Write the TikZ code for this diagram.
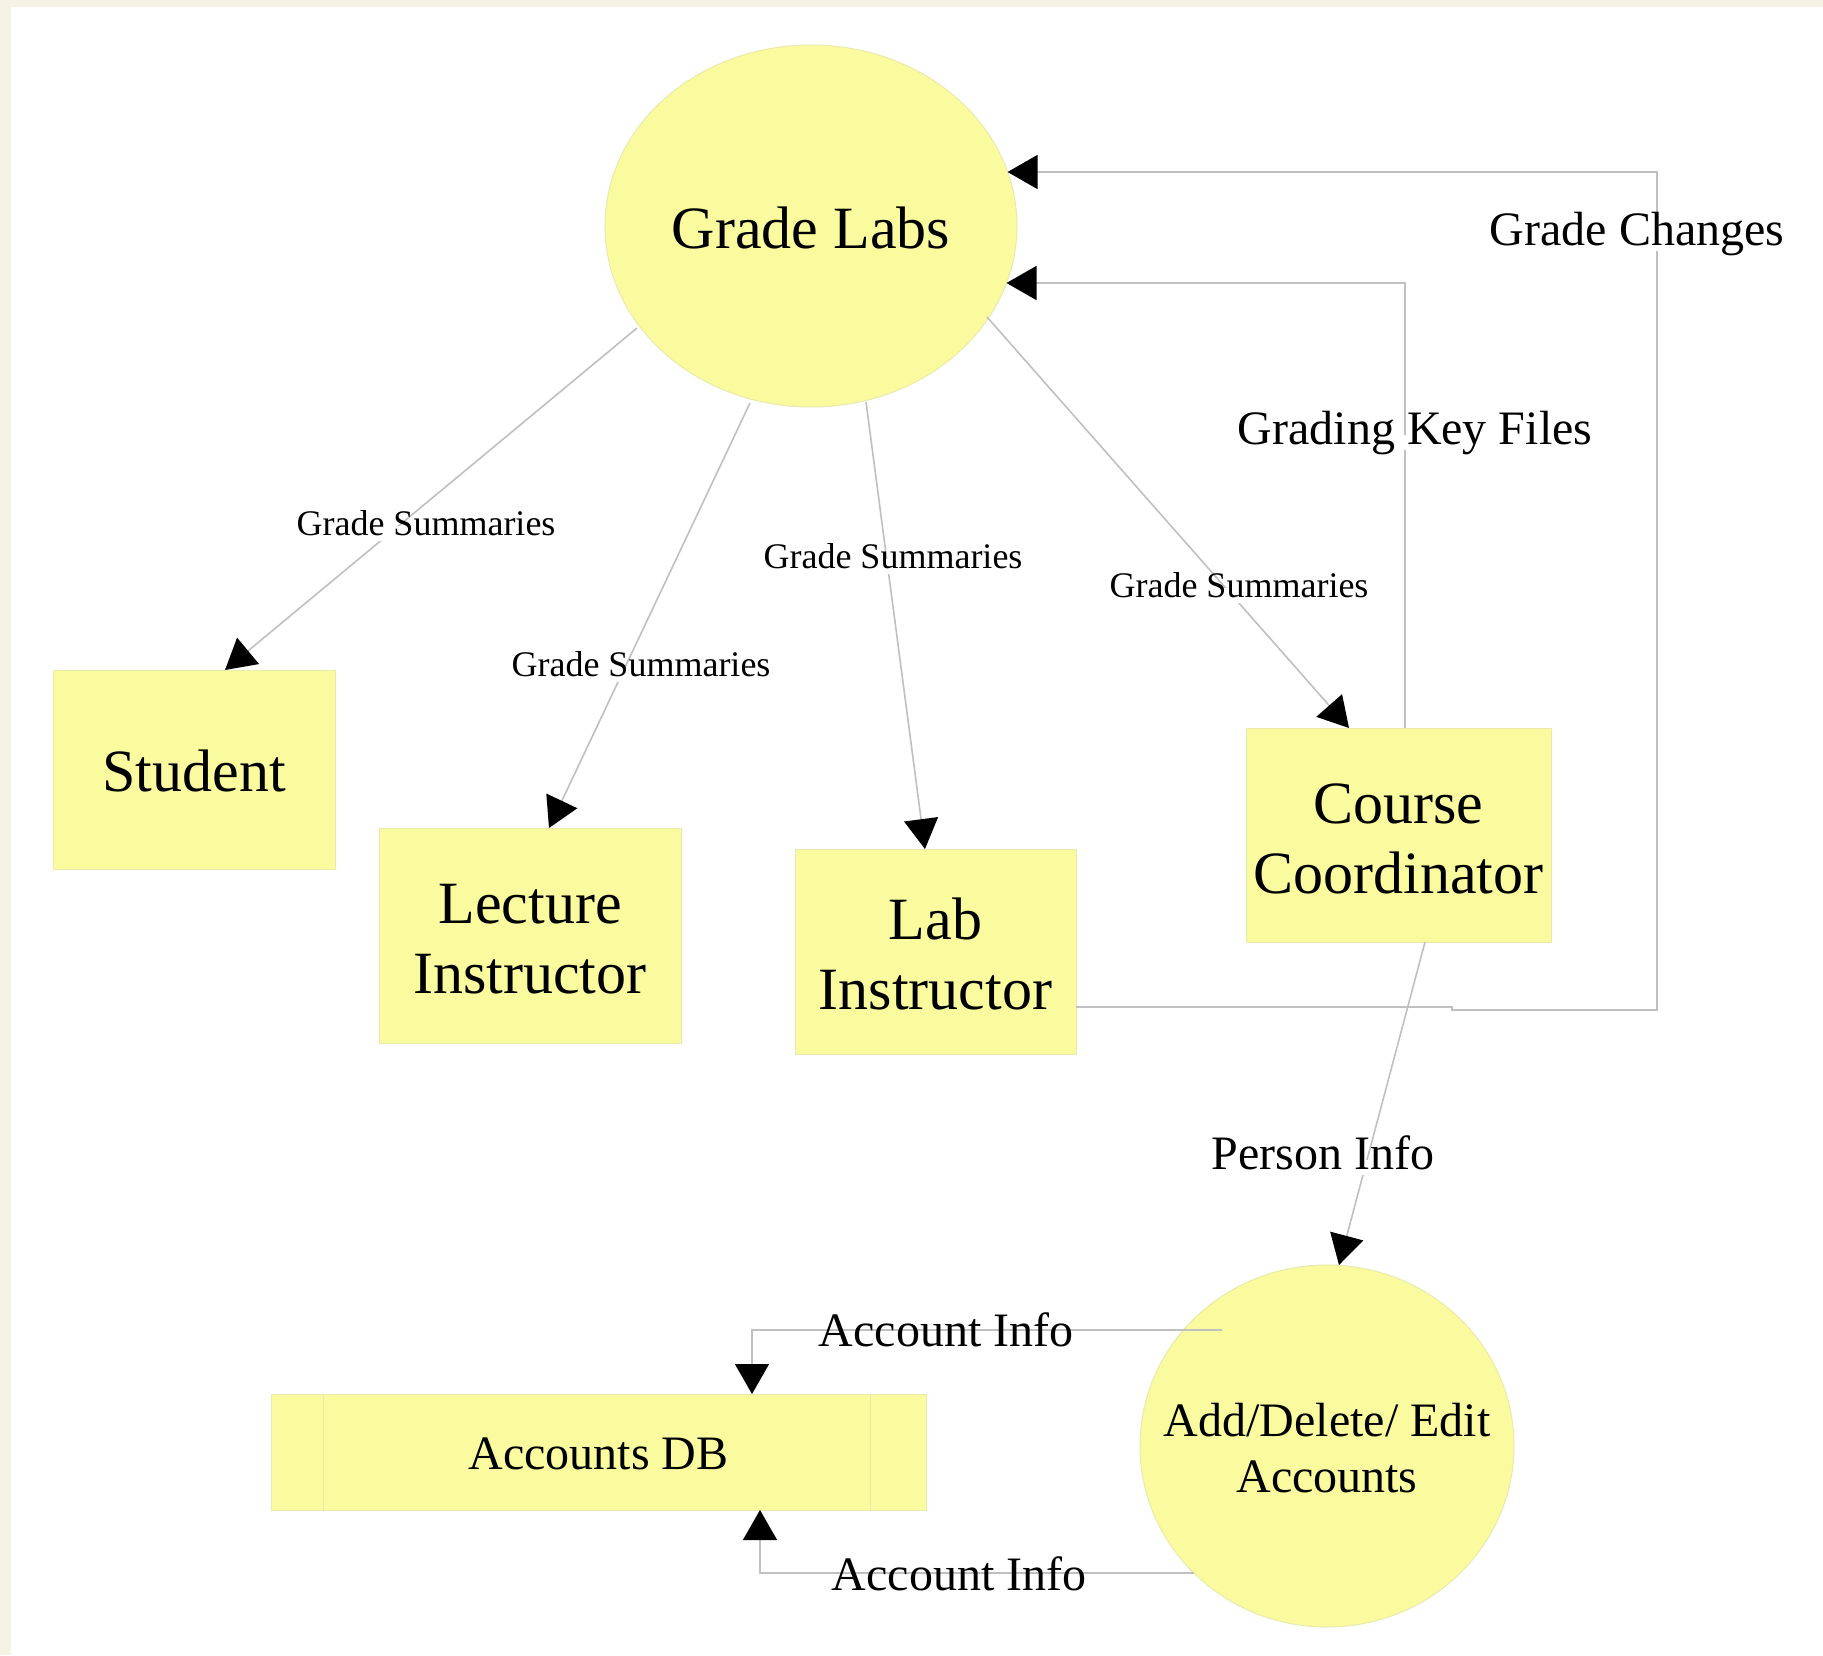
\documentclass[tikz,border=0pt]{standalone}
\usepackage{fontspec}
\setmainfont{Liberation Serif}
\usetikzlibrary{arrows.meta,shapes.geometric}
\definecolor{boxyellow}{RGB}{250,250,158}
\definecolor{boxedge}{RGB}{234,234,172}
\definecolor{linegray}{RGB}{192,192,192}
\definecolor{cream}{RGB}{245,242,230}
\begin{document}
\begin{tikzpicture}[x=1pt,y=-1pt,
  entity/.style={rectangle,draw=boxedge,line width=1pt,fill=boxyellow,inner sep=0pt,outer sep=0pt,align=center,font=\fontsize{60}{70}\selectfont,text depth=0pt},
  process/.style={ellipse,draw=boxedge,line width=1pt,fill=boxyellow,inner sep=0pt,outer sep=0pt,align=center},
  flow/.style={draw=linegray,line width=1.6pt,-{Triangle[length=30pt,width=34pt,color=black]}},
  lbl/.style={fill=white,inner sep=3pt,text height=0.7em,text depth=0.2em,font=\fontsize{48}{56}\selectfont},
  slbl/.style={fill=white,inner sep=3pt,text height=0.7em,text depth=0.2em,font=\fontsize{36}{42}\selectfont}]

\fill[cream] (0,0) rectangle (1823,1655);
\fill[white] (11,7) rectangle (1823,1655);
\useasboundingbox (0,0) rectangle (1823,1655);

% nodes
\node[process,minimum width=412pt,minimum height=362pt,font=\fontsize{60}{70}\selectfont,execute at begin node={\rule{0pt}{46pt}}] (gl) at (811,226) {Grade Labs};
\node[entity,minimum width=282pt,minimum height=199pt,text height=44pt] (student) at (194,769.5) {Student};
\node[entity,minimum width=302pt,minimum height=215pt,text height=115pt] (lect) at (530,935.5) {Lecture\\Instructor};
\node[entity,minimum width=281pt,minimum height=205pt,text height=116pt] (lab) at (935.5,951.5) {Lab\\Instructor};
\node[entity,minimum width=305pt,minimum height=214pt,text height=116pt] (cc) at (1398.5,835) {Course\\Coordinator};
\node[process,minimum width=374pt,minimum height=362pt,
  label={[align=center,font=\fontsize{48}{56}\selectfont,yshift=-2pt]center:Add/Delete/ Edit\\Accounts}] (add) at (1327,1446) {};
\node[entity,minimum width=655pt,minimum height=116pt,font=\fontsize{48}{56}\selectfont,text height=34pt] (db) at (598.5,1452) {Accounts DB};
\draw[boxedge,line width=1pt] ([xshift=52pt]db.north west) -- ([xshift=52pt]db.south west);
\draw[boxedge,line width=1pt] ([xshift=-56pt]db.north east) -- ([xshift=-56pt]db.south east);

% connectors
\draw[flow] ([shift={(-174,102)}]gl.center) -- ([xshift=31pt]student.north);
\draw[flow] ([shift={(-61,177)}]gl.center) -- ([xshift=19pt]lect.north);
\draw[flow] ([shift={(55,176)}]gl.center) -- ([xshift=-10.5pt]lab.north);
\draw[flow] ([shift={(176,91)}]gl.center) -- ([xshift=-49.5pt]cc.north);
\draw[flow] ([xshift=6.5pt]cc.north) |- ([shift={(195.5,57)}]gl.center);
\draw[flow] ([shift={(140.5,55.5)}]lab.center) -- ++(376,0) -- ++(0,3) -- ++(205,0) |- ([shift={(196.6,-54)}]gl.center);
\draw[flow] ([shift={(26.5,107)}]cc.center) -- ([shift={(12,-181)}]add.center);
\draw[flow] ([shift={(-105,-116)}]add.center) -| ([xshift=153.5pt]db.north);
\draw[flow] ([shift={(-133,127)}]add.center) -| ([xshift=161.5pt]db.south);

% labels
\node[slbl] (l1) at (426,533) {Grade Summaries};
\node[slbl] (l2) at (641,674) {Grade Summaries};
\node[slbl] (l3) at (893,566) {Grade Summaries};
\node[slbl] (l4) at (1239,595) {Grade Summaries};
\node[lbl] (l5) at (1415,442) {Grading Key Files};
\node[lbl] (l6) at (1637,243) {Grade Changes};
\node[lbl] (l7) at (1323,1167) {Person Info};
\node[lbl] (l8) at (946,1344) {Account Info};
\node[lbl] (l9) at (959,1588) {Account Info};
\end{tikzpicture}
\end{document}
